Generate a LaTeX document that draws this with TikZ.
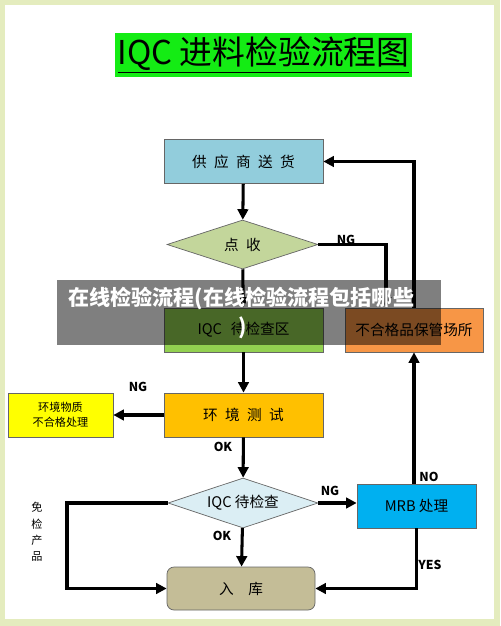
\documentclass[tikz,border=0pt]{standalone}
\usepackage{fontspec}
\setmainfont{Noto Sans CJK SC}
\usetikzlibrary{shapes.geometric,arrows.meta}
\definecolor{pagebg}{RGB}{228,236,190}
\definecolor{titlegreen}{RGB}{20,236,20}
\definecolor{supblue}{RGB}{146,205,220}
\definecolor{olivegreen}{RGB}{195,214,155}
\definecolor{qagreen}{RGB}{146,208,80}
\definecolor{rejorange}{RGB}{247,150,70}
\definecolor{envgold}{RGB}{255,192,0}
\definecolor{envyellow}{RGB}{255,255,0}
\definecolor{chkblue}{RGB}{219,238,244}
\definecolor{mrbblue}{RGB}{0,176,240}
\definecolor{storetan}{RGB}{196,189,151}
\newcommand{\gp}{\hspace{.5em}}

\begin{document}
\begin{tikzpicture}[x=0.03cm,y=-0.03cm,
  box/.style={draw=gray!80!black,line width=0.6pt,minimum width=4.77cm,minimum height=1.32cm,inner sep=0pt,font=\fontsize{12.5}{15}\selectfont},
  dia/.style={diamond,draw=gray!80!black,line width=0.6pt,aspect=3,inner sep=0pt,minimum width=4.5cm,minimum height=1.5cm,font=\fontsize{12.5}{15}\selectfont},
  arr/.style={line width=2.6pt,-{Triangle[length=9pt,width=9pt]}},
  ln/.style={line width=2.6pt},
  lbl/.style={font=\fontsize{10.5}{12}\selectfont\bfseries}]
\fill[pagebg] (0,0) rectangle (500,626);
\fill[white] (5,5) rectangle (494,619);
\node[fill=titlegreen,minimum width=8.91cm,minimum height=1.32cm,inner sep=0pt,font=\fontsize{28}{30}\selectfont] (title) at (263.5,55) {\underline{IQC 进料检验流程图}};

\node[box,fill=supblue] (sup) at (243.5,161.5) {供\gp 应\gp 商\gp 送\gp 货};
\node[dia,fill=olivegreen,minimum width=4.53cm,minimum height=1.47cm] (dsh) at (242.5,244.5) {点\gp 收};
\node[box,fill=qagreen] (qa) at (243.5,330) {IQC\hspace{.6em}待检查区};
\node[box,fill=rejorange,minimum width=4.14cm] (rej) at (414,330) {不合格品保管场所};
\node[box,fill=envgold] (env) at (243.5,415) {环\gp 境\gp 测\gp 试};
\node[box,fill=envyellow,minimum width=3.15cm,align=center,font=\fontsize{9.5}{13}\selectfont] (envng) at (60.5,415) {环境物质\\不合格处理};
\node[dia,fill=chkblue] (chk) at (243,503) {IQC 待检查};
\node[box,fill=mrbblue,minimum width=3.57cm] (mrb) at (416.5,506) {MRB 处理};
\node[box,fill=storetan,rounded corners=6pt,minimum width=4.44cm,minimum height=1.29cm] (store) at (241,588.5) {入\hspace{1em}库};
\coordinate (fk) at (67,503);

\draw[arr] (sup) -- (dsh);
\draw[arr] (dsh.east) -| ([xshift=-0.84cm]rej.north);
\draw[arr] (rej.north) |- (sup.east);
\draw[arr] (dsh) -- (qa);
\draw[arr] (qa) -- (env);
\draw[arr] (env) -- (envng);
\draw[arr] (env) -- (chk);
\draw[arr] (chk.east) -- (chk.east -| mrb.west);
\draw[arr] (rej.south |- mrb.north) -- (rej.south);
\draw[arr] (mrb.south) |- (store.east);
\draw[arr] (chk) -- (store);
\draw[arr] (chk.west) -- (fk) |- (store.west);

\node[lbl] (ng1) at (346,240) {NG};
\node[lbl] (ng2) at (138,387) {NG};
\node[lbl] (ok1) at (223,447) {OK};
\node[lbl] (ng3) at (330,491) {NG};
\node[lbl] (no) at (429,477) {NO};
\node[lbl] (ok2) at (222,536) {OK};
\node[lbl] (yes) at (430,565) {YES};
\node[align=center,font=\fontsize{9.5}{14}\selectfont] (free) at (37,532) {免\\检\\产\\品};

\fill[black,opacity=.5] (57,280) rectangle (441,345);
\node[anchor=west,text=white,font=\fontsize{18}{20}\selectfont\bfseries,inner sep=0pt] (wm1) at (68,298) {在线检验流程(在线检验流程包括哪些};
\node[text=white,font=\fontsize{18}{20}\selectfont\bfseries,inner sep=0pt] (wm2) at (243,328) {)};
\end{tikzpicture}
\end{document}
